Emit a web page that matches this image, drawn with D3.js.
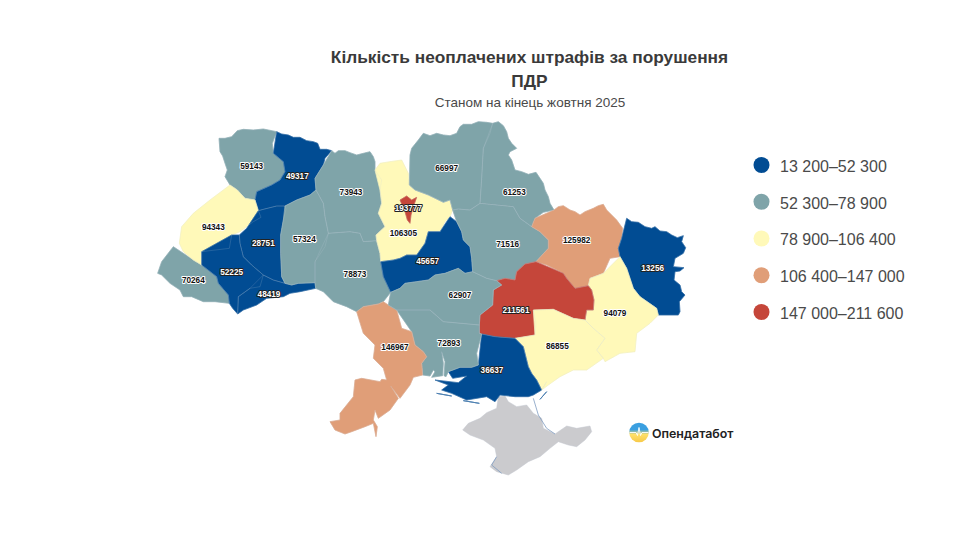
<!DOCTYPE html>
<html>
<head>
<meta charset="utf-8">
<script src="https://cdn.jsdelivr.net/npm/d3@7"></script>
<style>
    body { margin: 0; background: #fff; }
    text { font-family: "Liberation Sans", Arial, sans-serif; }
    .valueLabel { font-size: 8.2px; font-weight: bold; text-anchor: middle; paint-order: stroke; stroke-linejoin: round; }
</style>
</head>
<body>
<svg id="chart" width="960" height="540"></svg>
<script>
const titleLines = ["Кількість неоплачених штрафів за порушення", "ПДР"];
const subtitle = "Станом на кінець жовтня 2025";
const brandName = "Опендатабот";

const classBreaks = [52300, 78900, 106400, 147000];
const classColors = ["#014c93", "#7fa4a9", "#fff9b9", "#e09e78", "#c5463a"];
const legendLabels = ["13 200–52 300", "52 300–78 900", "78 900–106 400", "106 400–147 000", "147 000–211 600"];

const regionNames = ["Закарпатська", "Волинська", "Рівненська", "Львівська", "Тернопільська", "Івано-Франківська",
    "Чернівецька", "Хмельницька", "Житомирська", "Вінницька", "Київська", "Черкаська", "Чернігівська", "Сумська",
    "Полтавська", "Харківська", "Луганська", "Донецька", "Дніпропетровська", "Запорізька", "Херсонська",
    "Миколаївська", "Одеська", "Кіровоградська", "Київ"];
const regionValues = [70264, 59143, 49317, 94343, 28751, 52225, 48419, 57324, 73943, 78873, 106305, 45657, 66997,
    61253, 71516, 125982, 13256, 94079, 211561, 86855, 36637, 72893, 146967, 62907, 193777];

const regionRings = [
    [[[70,395],[130,435],[155,450],[200,485],[205,505],[235,540],[238,565],[195,560],[160,560],[125,545],[100,545],[90,525],[60,505],[35,480],[23,475],[35,440],[60,420]]],
    [[[207,70],[225,70],[245,65],[262,47],[280,43],[310,45],[340,42],[380,50],[367,85],[370,115],[400,140],[405,170],[390,195],[365,210],[320,230],[315,255],[285,250],[262,225],[240,210],[225,185],[232,165],[225,145],[218,123],[210,110],[205,95]]],
    [[[380,50],[395,57],[415,60],[430,67],[450,67],[470,77],[490,80],[503,85],[510,103],[530,103],[545,107],[525,130],[520,150],[495,190],[498,225],[480,240],[440,255],[405,273],[380,273],[340,283],[325,287],[315,255],[320,230],[365,210],[390,195],[405,170],[400,140],[370,115],[367,85]]],
    [[[240,210],[262,225],[285,250],[315,255],[325,287],[333,307],[310,320],[270,350],[245,360],[238,400],[155,410],[155,450],[130,435],[100,410],[88,385],[95,335],[130,295],[180,255],[220,230]]],
    [[[325,287],[340,283],[380,273],[405,273],[408,283],[400,315],[392,360],[392,415],[395,485],[405,505],[370,495],[340,480],[305,450],[280,425],[270,385],[268,360],[290,340],[333,307]]],
    [[[245,360],[268,360],[270,385],[280,425],[305,450],[340,480],[330,515],[300,520],[265,545],[263,597],[248,580],[238,565],[235,540],[205,505],[200,485],[155,450],[155,410],[238,400]]],
    [[[340,480],[370,495],[405,505],[425,510],[445,505],[495,503],[497,520],[450,530],[420,535],[400,545],[350,550],[320,570],[280,585],[263,597],[265,545],[300,520],[330,515]]],
    [[[405,273],[440,255],[480,240],[498,225],[520,265],[525,305],[535,355],[525,395],[495,440],[495,503],[445,505],[425,510],[405,505],[395,485],[392,415],[392,360],[400,315],[408,283]]],
    [[[545,107],[555,115],[565,107],[585,107],[600,113],[620,120],[640,115],[660,110],[670,125],[675,140],[675,165],[695,195],[690,225],[695,265],[685,295],[705,335],[678,360],[680,377],[640,380],[630,355],[600,350],[535,355],[525,305],[520,265],[498,225],[495,190],[520,150],[525,130]]],
    [[[535,355],[600,350],[630,355],[640,380],[680,377],[690,415],[692,440],[700,485],[722,532],[700,560],[685,567],[640,575],[620,590],[590,575],[550,560],[520,530],[497,520],[495,503],[495,440],[525,395]]],
    [[[675,165],[690,145],[720,140],[755,135],[775,175],[778,210],[795,225],[835,240],[880,262],[900,255],[908,285],[900,305],[885,320],[870,350],[835,350],[825,385],[800,420],[770,420],[750,430],[730,435],[692,440],[690,415],[680,377],[678,360],[705,335],[685,295],[695,265],[690,225],[695,195]]],
    [[[900,305],[920,320],[935,350],[940,375],[960,395],[965,430],[968,470],[945,475],[925,460],[885,475],[855,480],[835,495],[800,500],[765,505],[750,520],[722,532],[700,485],[692,440],[730,435],[750,430],[770,420],[800,420],[825,385],[835,350],[870,350],[885,320]]],
    [[[780,120],[785,100],[805,75],[820,55],[840,62],[860,55],[880,60],[900,62],[920,55],[930,35],[940,28],[965,28],[985,20],[1010,22],[1028,25],[1020,55],[1000,100],[995,190],[990,265],[960,285],[925,282],[908,285],[900,255],[880,262],[835,240],[795,225],[778,210],[775,175]]],
    [[[1028,25],[1045,20],[1060,32],[1070,50],[1075,70],[1085,85],[1100,100],[1080,110],[1075,120],[1085,135],[1090,150],[1095,165],[1115,170],[1135,178],[1158,172],[1170,190],[1180,205],[1185,225],[1195,245],[1200,265],[1212,285],[1180,292],[1155,310],[1145,335],[1110,310],[1090,275],[990,265],[995,190],[1000,100],[1020,55]]],
    [[[908,285],[925,282],[960,285],[990,265],[1090,275],[1110,310],[1145,335],[1170,350],[1195,375],[1195,400],[1158,440],[1125,447],[1100,470],[1095,495],[1065,490],[1040,497],[1010,490],[968,470],[965,430],[960,395],[940,375],[935,350],[920,320],[900,305]]],
    [[[1212,285],[1225,275],[1240,272],[1260,285],[1275,290],[1290,300],[1305,290],[1330,280],[1345,272],[1360,268],[1370,285],[1385,300],[1400,315],[1418,340],[1415,370],[1405,400],[1410,425],[1380,430],[1360,475],[1320,490],[1315,512],[1275,520],[1250,490],[1240,475],[1190,450],[1158,440],[1195,400],[1195,375],[1170,350],[1145,335],[1155,310],[1180,292]]],
    [[[1430,310],[1445,320],[1465,322],[1485,335],[1505,340],[1515,335],[1530,348],[1550,350],[1565,360],[1582,368],[1600,362],[1595,380],[1607,398],[1600,415],[1575,430],[1570,455],[1602,458],[1590,468],[1575,470],[1572,495],[1590,510],[1595,530],[1605,540],[1588,560],[1590,590],[1585,600],[1525,600],[1520,580],[1470,545],[1450,520],[1430,460],[1410,425],[1405,400],[1415,370],[1418,340]]],
    [[[1410,425],[1430,460],[1450,520],[1470,545],[1520,580],[1525,600],[1500,625],[1460,655],[1455,710],[1410,715],[1365,740],[1360,730],[1340,705],[1365,670],[1330,640],[1305,615],[1310,585],[1330,585],[1332,555],[1325,525],[1315,512],[1320,490],[1360,475],[1380,430]]],
    [[[1158,440],[1125,447],[1100,470],[1095,495],[1065,490],[1040,497],[1055,510],[1030,525],[1028,570],[990,600],[988,630],[988,655],[995,657],[1035,665],[1095,670],[1155,660],[1158,625],[1150,585],[1210,583],[1270,610],[1305,615],[1310,585],[1330,585],[1332,555],[1325,525],[1315,512],[1275,520],[1250,490],[1240,475],[1190,450]]],
    [[[1150,585],[1210,583],[1270,610],[1305,615],[1330,640],[1365,670],[1340,705],[1360,730],[1310,765],[1270,765],[1230,785],[1195,810],[1175,825],[1160,795],[1145,775],[1135,755],[1120,695],[1095,670],[1155,660],[1158,625]], [[1175,825],[1190,800],[1195,815]]],
    [[[995,657],[1035,665],[1095,670],[1120,695],[1135,755],[1145,775],[1160,795],[1175,825],[1150,840],[1135,845],[1095,845],[1050,840],[1035,860],[1010,845],[950,855],[905,835],[875,825],[895,810],[855,795],[925,803],[950,783],[908,790],[895,770],[930,757],[965,757],[985,750],[980,715]], [[860,835],[905,843],[875,843]], [[940,857],[988,865],[955,865]], [[1170,853],[1190,830],[1182,850]]],
    [[[740,585],[840,585],[880,620],[988,630],[988,655],[995,657],[980,715],[985,750],[965,757],[930,757],[895,770],[888,785],[882,782],[885,740],[875,710],[880,745],[878,782],[845,787],[855,770],[850,765],[840,783],[818,780],[815,745],[830,725],[820,710],[795,690],[785,650],[755,640]]],
    [[[620,590],[640,575],[685,567],[700,560],[715,570],[740,585],[755,640],[785,650],[795,690],[820,710],[830,725],[815,745],[818,780],[790,787],[780,810],[750,850],[722,813],[745,850],[720,885],[685,910],[675,885],[670,915],[682,935],[678,965],[670,925],[645,935],[605,950],[585,957],[555,945],[540,920],[570,915],[570,895],[590,870],[610,845],[615,795],[635,790],[690,800],[695,793],[710,795],[700,760],[670,730],[675,690],[640,655],[645,600]]],
    [[[722,532],[750,520],[765,505],[800,500],[835,495],[855,480],[885,475],[925,460],[945,475],[968,470],[1010,490],[1040,497],[1055,510],[1030,525],[1028,570],[990,600],[988,630],[880,620],[840,585],[740,585],[715,570],[700,560]]],
    [[[750,255],[770,243],[785,255],[800,247],[790,275],[783,300],[780,325],[772,315],[765,290],[750,280]]]
];
const labelAnchors = [[130,495],[305,152],[442,183],[190,336],[340,385],[245,471],[357,537],[463,371],[603,230],[615,477],
    [760,354],[833,437],[890,160],[1093,230],[1073,388],[1280,376],[1508,459],[1395,595],[1098,585],[1222,693],
    [1026,765],[897,684],[735,696],[930,540],[775,279]];
// values printed white on a dark halo
const darkHaloRegions = ["Рівненська", "Тернопільська", "Івано-Франківська", "Чернівецька", "Черкаська", "Луганська",
    "Дніпропетровська", "Херсонська", "Київ"];

const crimeaRing = [[938,945],[955,925],[990,910],[1010,893],[1040,880],[1045,845],[1065,843],[1075,860],[1100,875],[1130,870],[1150,895],[1175,910],[1180,940],[1215,957],[1250,933],[1280,940],[1320,933],[1325,950],[1305,975],[1280,995],[1255,990],[1225,980],[1200,1000],[1170,1025],[1135,1040],[1100,1065],[1075,1080],[1040,1070],[1020,1055],[1040,1025],[1035,1000],[1000,975],[960,960],[938,955]];
const arabatSpit = [[1150,850],[1165,900],[1190,940],[1215,957]];
const sevastopolLine = [[1040,1025],[1025,1050],[1055,1075]];

const svg = d3.select("#chart");
const projection = d3.geoIdentity().scale(1 / 3).translate([150, 115]);
const path = d3.geoPath(projection);
const color = d3.scaleThreshold().domain(classBreaks).range(classColors);

drawTitles();
drawMap();
drawLegend();
drawBrand();

function drawTitles() {
    svg.selectAll(".title")
        .data(titleLines)
        .join("text")
        .attr("class", "title")
        .attr("x", 529.5)
        .attr("y", (d, i) => 63 + i * 23.5)
        .attr("text-anchor", "middle")
        .attr("font-size", 17.3)
        .attr("font-weight", "bold")
        .attr("fill", "#3a3a3a")
        .text(d => d);

    svg.append("text")
        .attr("x", 530)
        .attr("y", 107)
        .attr("text-anchor", "middle")
        .attr("font-size", 13.5)
        .attr("fill", "#4a4a4a")
        .text(subtitle);
}

function regionShape(i) {
    return { type: "MultiPolygon", coordinates: regionRings[i].map(r => [r]) };
}

function drawMap() {
    const g = svg.append("g");

    g.append("path")
        .datum({ type: "Polygon", coordinates: [crimeaRing] })
        .attr("d", path)
        .attr("fill", "#cbcbce")
        .attr("stroke", "#c4c8d0")
        .attr("stroke-width", 0.5);

    //stroke in the own fill closes the seams between neighbours
    g.selectAll(".region")
        .data(regionNames)
        .join("path")
        .attr("class", "region")
        .attr("d", (d, i) => path(regionShape(i)))
        .attr("fill", (d, i) => color(regionValues[i]))
        .attr("stroke", (d, i) => color(regionValues[i]))
        .attr("stroke-width", 0.7)
        .attr("stroke-linejoin", "round");

    //faint borders on top
    g.selectAll(".border")
        .data(regionNames)
        .join("path")
        .attr("class", "border")
        .attr("d", (d, i) => path(regionShape(i)))
        .attr("fill", "none")
        .attr("stroke", "#c3d0da")
        .attr("stroke-width", 0.5)
        .attr("stroke-opacity", 0.35)
        .attr("stroke-linejoin", "round");

    // thin water lines
    [arabatSpit, sevastopolLine].forEach(line => {
        g.append("path")
            .datum({ type: "LineString", coordinates: line })
            .attr("d", path)
            .attr("fill", "none")
            .attr("stroke", "#7f9cc0")
            .attr("stroke-width", 0.8);
    });

    g.selectAll(".valueLabel")
        .data(regionNames)
        .join("text")
        .attr("class", "valueLabel")
        .attr("x", (d, i) => projection(labelAnchors[i])[0])
        .attr("y", (d, i) => projection(labelAnchors[i])[1] + 3)
        .attr("fill", d => darkHaloRegions.includes(d) ? "#fff" : "#111")
        .attr("stroke", d => darkHaloRegions.includes(d) ? "#222" : "#fff")
        .attr("stroke-width", 2)
        .text((d, i) => regionValues[i]);
}

function drawLegend() {
    const legendY = d3.scalePoint().domain(legendLabels).range([165, 312]);
    const rows = svg.selectAll(".legendRow")
        .data(legendLabels)
        .join("g")
        .attr("class", "legendRow")
        .attr("transform", d => `translate(761.5,${legendY(d)})`);

    rows.append("circle")
        .attr("r", 8)
        .attr("fill", (d, i) => classColors[i]);

    rows.append("text")
        .attr("x", 18.5)
        .attr("y", 6.8)
        .attr("font-size", 16)
        .attr("fill", "#4a4a4a")
        .text(d => d);
}

function drawBrand() {
    const grad = svg.append("defs").append("linearGradient")
        .attr("id", "brandGrad")
        .attr("x1", 0).attr("x2", 0).attr("y1", 0).attr("y2", 1);
    grad.append("stop").attr("offset", "0.35").attr("stop-color", "#3a9fe0");
    grad.append("stop").attr("offset", "0.6").attr("stop-color", "#ffe06a");
    grad.append("stop").attr("offset", "1").attr("stop-color", "#f7c948");

    const logo = svg.append("g").attr("transform", "translate(639,432.5)");
    logo.append("circle").attr("r", 9.8).attr("fill", "url(#brandGrad)");
    logo.append("path")
        .attr("d", "M-9.5,0H-3L-1.5,3L0,-5L1.5,3L3,0H9.5")
        .attr("fill", "none")
        .attr("stroke", "#fff")
        .attr("stroke-width", 0.9);

    svg.append("text")
        .attr("x", 652)
        .attr("y", 437.5)
        .attr("font-size", 12.4)
        .attr("font-weight", 600)
        .style("font-family", "Inter, Roboto, sans-serif")
        .attr("fill", "#222")
        .text(brandName);
}
</script>
</body>
</html>
